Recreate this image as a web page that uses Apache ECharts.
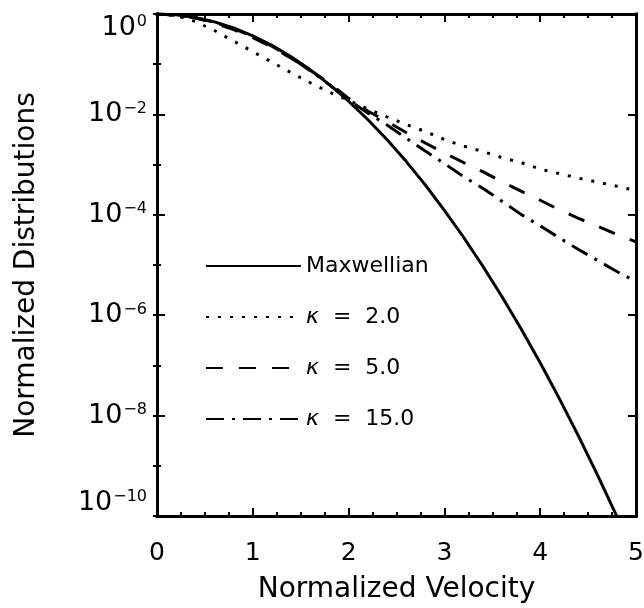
<!DOCTYPE html>
<html>
<head>
<meta charset="utf-8">
<script src="https://cdn.jsdelivr.net/npm/echarts@6/dist/echarts.min.js"></script>
<style>
  html, body { margin: 0; padding: 0; background: #ffffff; }
  #chart { width: 644px; height: 608px; }
</style>
</head>
<body>
<div id="chart"></div>
<script>
// ---- data ----
const velocity = [0, 0.2, 0.4, 0.6, 0.8, 1.0, 1.2, 1.4, 1.6, 1.8, 2.0, 2.2, 2.4, 2.6, 2.8, 3.0, 3.2, 3.4, 3.6, 3.8, 4.0, 4.2, 4.4, 4.6, 4.8, 5.0];

const maxwellian = [1, 0.961, 0.852, 0.698, 0.527, 0.368, 0.237, 0.141, 0.0773, 0.0392, 0.0183,
  7.91e-3, 3.15e-3, 1.16e-3, 3.94e-4, 1.23e-4, 3.57e-5, 9.54e-6, 2.35e-6, 5.36e-7, 1.13e-7,
  2.18e-8, 3.91e-9, 6.47e-10, 9.87e-11, 1.39e-11];

const kappa2 = [1, 0.933, 0.708, 0.468, 0.288, 0.178, 0.110, 0.0676, 0.0427, 0.0275, 0.0191,
  0.0129, 8.91e-3, 6.31e-3, 4.57e-3, 3.16e-3, 2.34e-3, 1.82e-3, 1.38e-3, 1.10e-3, 8.13e-4,
  6.61e-4, 5.37e-4, 4.47e-4, 3.72e-4, 3.02e-4];

const kappa5 = [1, 0.955, 0.832, 0.661, 0.490, 0.339, 0.219, 0.132, 0.0759, 0.0417, 0.0209,
  0.0117, 7.24e-3, 4.37e-3, 2.69e-3, 1.70e-3, 1.10e-3, 7.24e-4, 4.57e-4, 2.95e-4, 1.95e-4,
  1.26e-4, 8.51e-5, 5.89e-5, 4.07e-5, 2.88e-5];

const kappa15 = [1, 0.955, 0.841, 0.684, 0.513, 0.355, 0.229, 0.135, 0.0741, 0.0389, 0.0195,
  0.0107, 6.17e-3, 3.39e-3, 1.86e-3, 1.05e-3, 5.75e-4, 3.39e-4, 1.86e-4, 1.02e-4, 6.03e-5,
  3.47e-5, 2.04e-5, 1.23e-5, 7.41e-6, 4.68e-6];

const seriesNames = ['Maxwellian', 'κ = 2.0', 'κ = 5.0', 'κ = 15.0'];
const xTicks = [0, 1, 2, 3, 4, 5];
const yExponents = [0, -2, -4, -6, -8, -10];
const xTitle = 'Normalized Velocity';
const yTitle = 'Normalized Distributions';
// ----------------------------------------------

const FONT = 'DejaVu Sans';
const BLACK = '#000000';
const pairs = (ys) => velocity.map((v, i) => [v, ys[i]]);

const chart = echarts.init(document.getElementById('chart'), null, { renderer: 'canvas' });

function expLabel(v) {
  const e = Math.round(Math.log10(v));
  if (yExponents.indexOf(e) < 0) return '';
  const s = e === 0 ? '0' : '\u2212' + (-e);
  return '{b|10}{s|' + s + '}';
}

const axisLineStyle = { show: true, onZero: false, lineStyle: { color: BLACK, width: 3, cap: 'square' } };

function xAxisCfg(pos, labels) {
  return {
    type: 'value', position: pos, min: 0, max: 5, interval: 1,
    axisLine: axisLineStyle,
    axisTick: { show: true, inside: true, length: 8, lineStyle: { color: BLACK, width: 2 } },
    minorTick: { show: true, splitNumber: 4, length: 4, lineStyle: { color: BLACK, width: 2 } },
    splitLine: { show: false }, minorSplitLine: { show: false },
    axisLabel: labels ? {
      show: true, margin: 25, color: BLACK, fontFamily: FONT, fontSize: 25,
      formatter: (v) => (xTicks.indexOf(v) >= 0 ? String(v) : '')
    } : { show: false },
    name: labels ? xTitle : '', nameLocation: 'middle', nameGap: 60,
    nameTextStyle: { color: BLACK, fontFamily: FONT, fontSize: 28 }
  };
}

function yAxisCfg(pos, major, labels) {
  return {
    type: 'log', logBase: 10, position: pos, min: 1e-10, max: 1, interval: major ? 2 : 1,
    axisLine: major ? axisLineStyle : { show: false },
    axisTick: { show: true, inside: true, length: major ? 8 : 4, lineStyle: { color: BLACK, width: 2 } },
    splitLine: { show: false },
    axisLabel: labels ? {
      show: true, margin: 10, color: BLACK, fontFamily: FONT,
      verticalAlignMaxLabel: 'top', verticalAlignMinLabel: 'bottom',
      formatter: expLabel,
      rich: {
        b: { fontFamily: FONT, fontSize: 27, color: BLACK, lineHeight: 27 },
        s: { fontFamily: FONT, fontSize: 16, color: BLACK, lineHeight: 16, verticalAlign: 'top', padding: [0, 0, 0, 1] }
      }
    } : { show: false },
    name: labels ? yTitle : '', nameLocation: 'middle', nameGap: 116, nameRotate: 90,
    nameTextStyle: { color: BLACK, fontFamily: FONT, fontSize: 28 }
  };
}

const option = {
  animation: false,
  backgroundColor: '#ffffff',
  grid: { left: 157, right: 8, top: 14, bottom: 92, containLabel: false, outerBoundsMode: 'none' },
  legend: {
    show: true, orient: 'vertical', left: 200, top: 250,
    itemWidth: 95, itemHeight: 20, itemGap: 29,
    data: seriesNames,
    itemStyle: { opacity: 0, color: 'rgba(0,0,0,0)', borderWidth: 0 },
    textStyle: {
      color: BLACK, fontFamily: FONT, fontSize: 22,
      rich: {
        k: { fontFamily: FONT, fontSize: 22, fontStyle: 'italic', color: BLACK },
        t: { fontFamily: FONT, fontSize: 22, color: BLACK }
      }
    },
    formatter: (name) => {
      if (name.indexOf('κ') === 0) {
        return '{k|κ}{t|  =  ' + name.split('= ')[1] + '}';
      }
      return name;
    }
  },
  xAxis: [xAxisCfg('bottom', true), xAxisCfg('top', false)],
  yAxis: [yAxisCfg('left', true, true), yAxisCfg('left', false, false),
          yAxisCfg('right', true, false), yAxisCfg('right', false, false)],
  series: [
    { name: seriesNames[0], type: 'line', xAxisIndex: 0, yAxisIndex: 0, data: pairs(maxwellian),
      symbol: 'none', clip: true, color: BLACK,
      lineStyle: { color: BLACK, width: 3, type: 'solid', cap: 'butt' } },
    { name: seriesNames[1], type: 'line', xAxisIndex: 0, yAxisIndex: 0, data: pairs(kappa2),
      symbol: 'none', clip: true, color: BLACK,
      lineStyle: { color: BLACK, width: 3, type: [3, 9], cap: 'butt' } },
    { name: seriesNames[2], type: 'line', xAxisIndex: 0, yAxisIndex: 0, data: pairs(kappa5),
      symbol: 'none', clip: true, color: BLACK,
      lineStyle: { color: BLACK, width: 3, type: [17, 16], cap: 'butt' } },
    { name: seriesNames[3], type: 'line', xAxisIndex: 0, yAxisIndex: 0, data: pairs(kappa15),
      symbol: 'none', clip: true, color: BLACK,
      lineStyle: { color: BLACK, width: 3, type: [18, 8, 3, 8], cap: 'butt' } }
  ]
};

chart.setOption(option);
</script>
</body>
</html>
